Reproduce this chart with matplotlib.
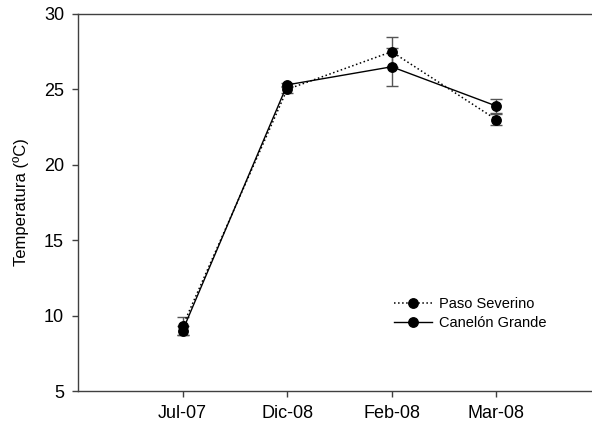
import matplotlib
matplotlib.use("Agg")
import matplotlib.pyplot as plt

plt.rcParams['font.family'] = ['Liberation Sans', 'DejaVu Sans']

categories = ["Jul-07", "Dic-08", "Feb-08", "Mar-08"]
paso = [9.3, 25.0, 27.5, 23.0]
paso_err = [0.6, 0.25, 1.0, 0.38]
canelon = [9.0, 25.3, 26.5, 23.9]
canelon_err = [0.3, 0.15, 1.25, 0.45]

W, H = 592, 425
fig = plt.figure(figsize=(W / 100, H / 100), dpi=100)
ax = fig.add_axes([78 / W, (H - 391) / H, (600.8 - 78) / W, (391 - 14) / H])

x = list(range(1, len(categories) + 1))
ecol = "#555555"
ax.errorbar(x, paso, yerr=paso_err, fmt='o', ls=':', color='black', lw=1.1,
            ms=6.8, ecolor=ecol, elinewidth=1, capsize=4.5, capthick=1,
            label="Paso Severino", zorder=3)
ax.errorbar(x, canelon, yerr=canelon_err, fmt='o', ls='-', color='black', lw=1.0,
            ms=6.8, ecolor=ecol, elinewidth=1, capsize=4.5, capthick=1,
            label="Canelón Grande", zorder=3)

ax.set_xlim(0, 5)
ax.set_ylim(5, 30)
ax.set_xticks(x)
ax.set_xticklabels(categories)
ax.set_yticks([5, 10, 15, 20, 25, 30])
ax.tick_params(axis='both', labelsize=13, length=4, width=1, color='#404040', direction='out')
ax.tick_params(axis='x', pad=6)
ax.tick_params(axis='y', pad=6)
for s in ['left', 'bottom', 'top']:
    ax.spines[s].set_color('#404040')
    ax.spines[s].set_linewidth(1)
ax.spines['right'].set_visible(False)

ax.set_ylabel("Temperatura (ºC)", fontsize=12)
ax.yaxis.set_label_coords(-(78 - 21) / (600.8 - 78), 0.5)
ax.yaxis.label.set_va('center')

handles, labels = ax.get_legend_handles_labels()
handles = [h[0] for h in handles]
leg = fig.legend(handles, labels, loc='upper left', bbox_to_anchor=(388 / W, 1 - 291 / H),
                 frameon=False, fontsize=10.5, handlelength=2.6, handletextpad=0.5,
                 labelspacing=0.35, borderaxespad=0)

fig.savefig("out.png", dpi=100)
